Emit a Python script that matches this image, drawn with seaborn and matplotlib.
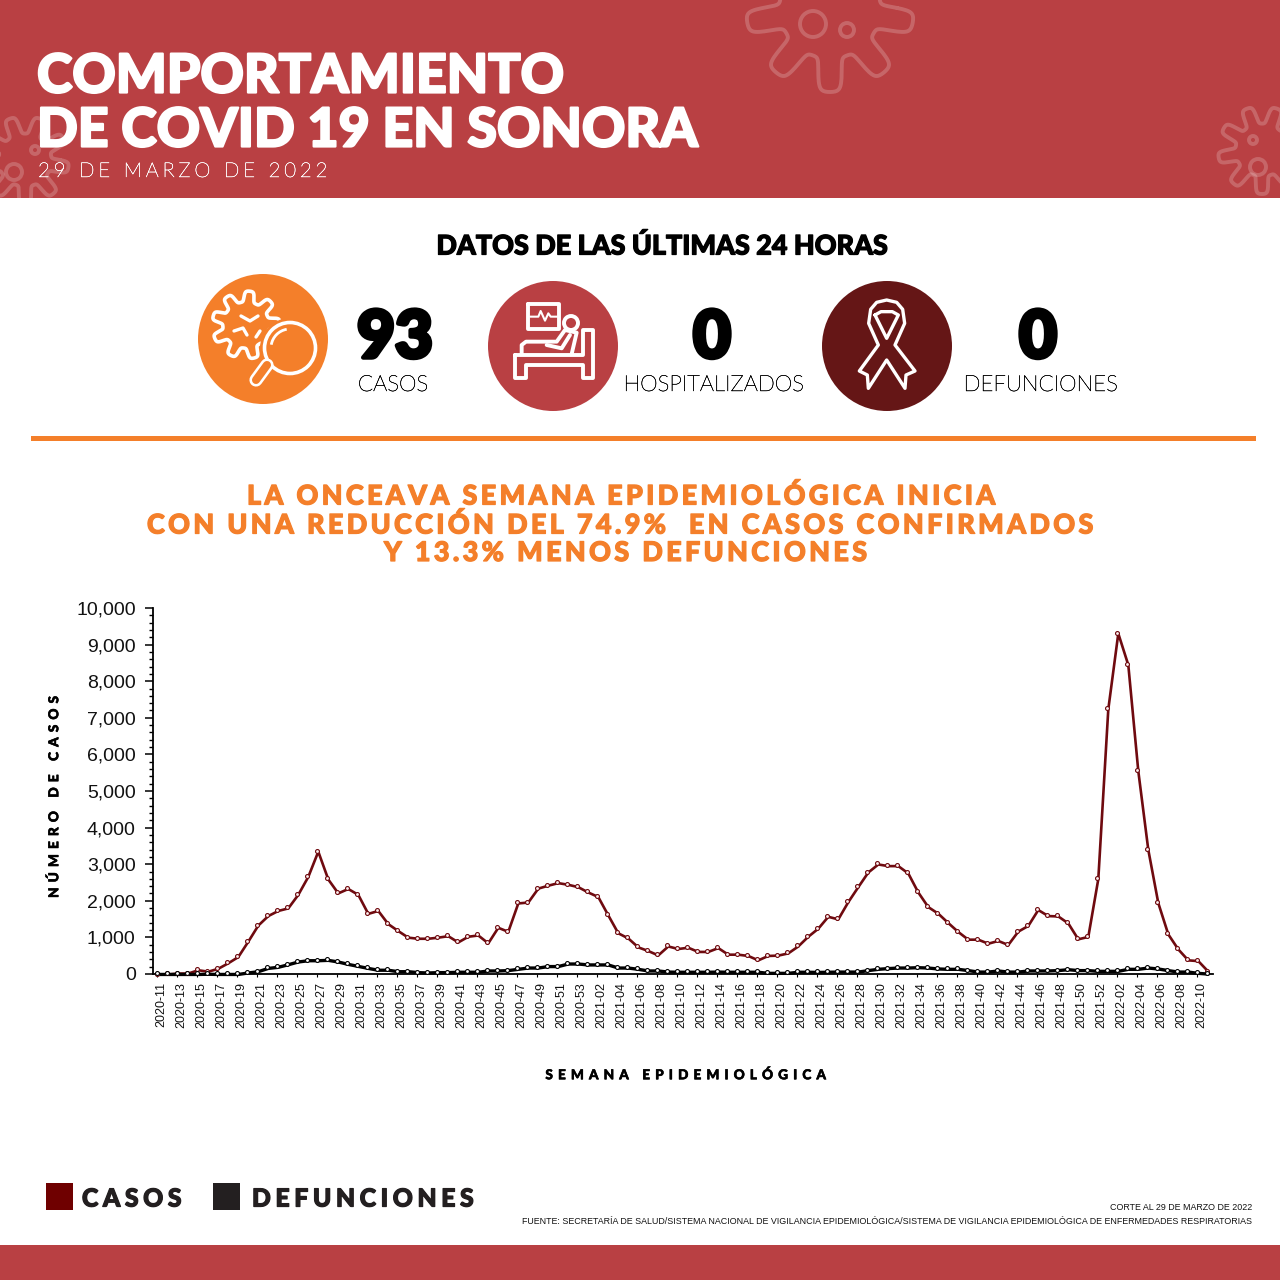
import numpy as np
import pandas as pd
import matplotlib
matplotlib.use("Agg")
import matplotlib.pyplot as plt
import matplotlib.patheffects as pe
import seaborn as sns
from matplotlib.patches import Rectangle, Circle, Polygon, Arc
from matplotlib.ticker import MultipleLocator, StrMethodFormatter
from matplotlib.transforms import offset_copy, ScaledTranslation

# semanas epidemiologicas
semanas_2020 = [f"2020-{s:02d}" for s in range(11, 54)]
semanas_2021 = [f"2021-{s:02d}" for s in range(1, 53)]
semanas_2022 = [f"2022-{s:02d}" for s in range(1, 12)]

casos_2020 = [10, 15, 40, 40, 130, 90, 170, 320, 490, 910, 1350, 1610, 1750, 1820, 2190, 2680, 3370,
              2610, 2230, 2350, 2190, 1670, 1750, 1390, 1200, 1020, 990, 990, 1020, 1060, 890, 1045,
              1080, 865, 1290, 1180, 1955, 1980, 2360, 2440, 2510, 2465, 2400]
casos_2021 = [2255, 2130, 1630, 1140, 1000, 755, 655, 535, 780, 710, 745, 630, 630, 735, 555, 555, 520,
              400, 520, 530, 590, 780, 1045, 1265, 1590, 1520, 1990, 2400, 2800, 3020, 2975, 2975, 2775,
              2255, 1855, 1675, 1420, 1175, 965, 965, 855, 930, 820, 1185, 1340, 1775, 1610, 1600, 1410,
              975, 1040, 2620]
casos_2022 = [7260, 9330, 8470, 5570, 3420, 1965, 1110, 700, 400, 380, 93]

defunciones_2020 = [15, 15, 15, 15, 15, 20, 15, 15, 15, 55, 90, 180, 210, 280, 355, 390, 390, 400, 355, 290,
                    235, 180, 130, 130, 90, 90, 65, 55, 65, 65, 75, 75, 75, 110, 110, 120, 155, 190, 190,
                    230, 230, 300, 300]
defunciones_2021 = [275, 275, 275, 190, 190, 155, 110, 110, 80, 75, 75, 75, 75, 80, 75, 75, 75, 75, 45, 45,
                    45, 75, 75, 70, 75, 80, 80, 80, 120, 155, 175, 190, 190, 200, 190, 165, 155, 155, 120,
                    80, 80, 110, 80, 80, 110, 110, 110, 120, 145, 120, 120, 100]
defunciones_2022 = [100, 100, 155, 155, 190, 165, 120, 80, 80, 45, 25]

y_ticks = [0, 1000, 2000, 3000, 4000, 5000, 6000, 7000, 8000, 9000, 10000]

df = pd.DataFrame({
    "semana": semanas_2020 + semanas_2021 + semanas_2022,
    "casos": casos_2020 + casos_2021 + casos_2022,
    "defunciones": defunciones_2020 + defunciones_2021 + defunciones_2022,
})

ROJO = "#B94043"
NARANJA = "#F47F2A"
GUINDA = "#651616"
VINO = "#6F0A0F"
NEGRO = "#231F20"
LATO = ["Lato", "DejaVu Sans"]


def esp(txt, n=1):
    # letras separadas con hair space
    return ("\u200a" * n).join(txt)


sns.set_theme(style="ticks")
plt.rcParams["font.family"] = ["Liberation Sans", "DejaVu Sans"]

fig = plt.figure(figsize=(12.8, 12.8), dpi=100, facecolor="white")

# capa de fondo en pixeles
bg = fig.add_axes([0, 0, 1, 1], zorder=0)
bg.set_xlim(0, 1280)
bg.set_ylim(1280, 0)
bg.axis("off")


def tx(x, y, s, size, color="black", weight="normal", ha="center", fam=LATO, grosor=0, **kw):
    t = bg.text(x, y, s, fontsize=size, color=color, fontweight=weight, ha=ha, va="center", family=fam, **kw)
    if grosor:
        t.set_path_effects([pe.withStroke(linewidth=grosor, foreground=color)])


def virus(cx, cy, r, color="white", lw=2.5, alpha=1.0, lobes=9, rot=0.0, amp=0.2):
    # contorno con lobulos redondeados
    t = np.linspace(0, 2 * np.pi, 800)
    rr = r * (1 - amp + amp * np.tanh(2.2 * np.cos(lobes * t + rot)) / np.tanh(2.2))
    bg.plot(cx + rr * np.cos(t), cy + rr * np.sin(t), color=color, lw=lw, alpha=alpha, solid_capstyle="round")


bg.add_patch(Rectangle((0, 0), 1280, 198, color=ROJO, lw=0))
bg.add_patch(Rectangle((0, 1245), 1280, 35, color=ROJO, lw=0))
bg.add_patch(Rectangle((31, 436), 1225, 4.5, color=NARANJA, lw=0))

# virus decorativos del encabezado
for cx, cy, r, c1, c2 in [(830, 8, 84, (813, 24, 13), (847, 30, 7)),
                          (25, 160, 44, (14, 172, 8), (35, 150, 4)),
                          (1262, 150, 44, (1258, 167, 8), (1253, 140, 4))]:
    virus(cx, cy, r, lw=2.8, alpha=0.2, lobes=9, rot=-np.pi / 2)
    bg.add_patch(Circle(c1[:2], c1[2], fill=False, ec="white", lw=2.8, alpha=0.2))
    bg.add_patch(Circle(c2[:2], c2[2], fill=False, ec="white", lw=2.8, alpha=0.2))

tx(37, 77, "COMPORTAMIENTO", 38.6, "white", "black", ha="left", grosor=1.6)
tx(37, 131, "DE COVID 19 EN SONORA", 38.6, "white", "black", ha="left", grosor=1.6)
tx(38, 172, esp("29 DE MARZO DE 2022", 3), 14.7, "white", "light", ha="left", grosor=0.3)

tx(661, 246, "DATOS DE LAS ÚLTIMAS 24 HORAS", 19.4, "black", "black", grosor=0.9)

# circulos con iconos
bg.add_patch(Circle((263, 339), 65, color=NARANJA, lw=0))
bg.add_patch(Circle((553, 346), 65, color=ROJO, lw=0))
bg.add_patch(Circle((887, 346), 65, color=GUINDA, lw=0))

# icono lupa
virus(246, 325, 34, lw=2.6, lobes=9, rot=0.6, amp=0.16)
bg.plot([241, 250, 258], [316, 321, 316], color="white", lw=2.4, solid_capstyle="round")
bg.plot([234, 243, 247], [331, 328, 335], color="white", lw=2.4, solid_capstyle="round")
bg.plot([256, 260], [337, 331], color="white", lw=2.4, solid_capstyle="round")
bg.add_patch(Circle((290, 348), 30, color=NARANJA, lw=0, zorder=3))
bg.add_patch(Circle((290, 348), 25.5, fill=False, ec="white", lw=2.6, zorder=4))
bg.add_patch(Arc((290, 348), 38, 38, theta1=190, theta2=260, color="white", lw=2, zorder=4))
bg.plot([267, 256], [365, 380], color="white", lw=9.5, solid_capstyle="round", zorder=4)
bg.plot([267, 256], [365, 380], color=NARANJA, lw=5.8, solid_capstyle="round", zorder=5)


def px(puntos, ox, oy):
    p = np.array(puntos, dtype=float) / 3
    return p + [ox, oy]


# icono cama
kw = dict(color="white", lw=2.8, solid_joinstyle="round", solid_capstyle="round")
bg.plot(*px([(55, 72), (148, 72), (148, 148), (55, 148), (55, 72)], 510, 280).T, **kw)
bg.plot(*px([(60, 110), (85, 110), (92, 93), (105, 122), (115, 100), (122, 110), (145, 110)], 510, 280).T,
        color="white", lw=1.5)
bg.add_patch(Circle((571, 323), 7, fill=False, ec="white", lw=2.8))
bg.plot(*px([(15, 225), (220, 225), (220, 150), (250, 150), (250, 295), (220, 295), (220, 255), (48, 255),
             (48, 295), (15, 295), (15, 225)], 510, 280).T, **kw)
bg.plot(*px([(35, 222), (35, 195), (48, 185), (140, 185), (165, 150), (200, 158), (185, 222)], 510, 280).T, **kw)
bg.plot(*px([(110, 195), (155, 205), (180, 165)], 510, 280).T, **kw)

# icono liston
liston = [(260, 90), (290, 97), (308, 118), (314, 160), (285, 225), (345, 303), (318, 315), (315, 355),
          (260, 270), (205, 355), (202, 315), (178, 303), (235, 225), (206, 160), (212, 118), (230, 97)]
bg.add_patch(Polygon(px(liston, 800, 270), closed=True, fill=False, ec="white", lw=2.4, joinstyle="round"))
bg.plot(*px([(225, 135), (243, 125), (277, 125), (295, 135), (260, 205), (225, 135)], 800, 270).T,
        color="white", lw=2.4, solid_joinstyle="round")

tx(395, 339, "93", 47, "black", "black", grosor=3.2)
tx(712, 339, "0", 47, "black", "black", grosor=3.2)
tx(1038, 339, "0", 47, "black", "black", grosor=3.2)
tx(393, 385, "CASOS", 16, "black", "light", grosor=0.3)
tx(714, 385, "HOSPITALIZADOS", 16, "black", "light", grosor=0.3)
tx(1041, 385, "DEFUNCIONES", 16, "black", "light", grosor=0.3)

tx(247, 496, esp("LA ONCEAVA SEMANA EPIDEMIOLÓGICA INICIA", 2), 19.4, NARANJA, "black", ha="left", grosor=0.9)
tx(147, 525, esp("CON UNA REDUCCIÓN DEL 74.9%  EN CASOS CONFIRMADOS", 2), 19.4, NARANJA, "black", ha="left", grosor=0.9)
tx(384, 553, esp("Y 13.3% MENOS DEFUNCIONES", 2), 19.4, NARANJA, "black", ha="left", grosor=0.9)

# leyenda
bg.add_patch(Rectangle((46, 1183), 27, 27, color="#6F0000", lw=0))
bg.add_patch(Rectangle((213, 1183), 27, 27, color=NEGRO, lw=0))
tx(82, 1199, esp("CASOS", 3), 17.8, NEGRO, "black", ha="left", grosor=0.9)
tx(252, 1199, esp("DEFUNCIONES", 3), 17.8, NEGRO, "black", ha="left", grosor=0.9)

tx(1252, 1207, "CORTE AL 29 DE MARZO DE 2022", 6.4, "#111111", ha="right", fam=["Liberation Sans"])
tx(1252, 1221, "FUENTE: SECRETARÍA DE SALUD/SISTEMA NACIONAL DE VIGILANCIA EPIDEMIOLÓGICA/SISTEMA DE VIGILANCIA "
   "EPIDEMIOLÓGICA DE ENFERMEDADES RESPIRATORIAS", 6.4, "#111111", ha="right", fam=["Liberation Sans"])

tx(54, 796, esp("NÚMERO DE CASOS", 6), 9.8, "black", "black", rotation=90, grosor=0.4)
tx(687, 1075, esp("SEMANA EPIDEMIOLÓGICA", 6), 9.8, "black", "black", grosor=0.4)

# grafica
ax = fig.add_axes([153 / 1280, 1 - 974 / 1280, (1213 - 153) / 1280, (974 - 608) / 1280], zorder=2)
ax.patch.set_alpha(0)
desfase = offset_copy(ax.transData, fig=fig, x=1.3, y=-1.0, units="dots")

sns.lineplot(data=df, x="semana", y="casos", color=VINO, lw=1.9, sort=False, ax=ax, clip_on=False)
sns.lineplot(data=df, x="semana", y="defunciones", color="black", lw=2.4, sort=False, ax=ax, clip_on=False)
for linea in ax.lines:
    linea.set_transform(desfase)
sns.scatterplot(data=df, x="semana", y="casos", s=8, color="#FBEDED", edgecolor=VINO, linewidth=0.8,
                ax=ax, clip_on=False, zorder=4)
sns.scatterplot(data=df, x="semana", y="defunciones", s=8, color="white", edgecolor="black", linewidth=0.8,
                ax=ax, clip_on=False, zorder=4)

ax.set_xlim(-0.4, 105.6)
ax.set_ylim(0, 10000)
ax.set_xlabel("")
ax.set_ylabel("")
ax.set_yticks(y_ticks)
ax.yaxis.set_major_formatter(StrMethodFormatter("{x:,.0f}"))
ax.yaxis.set_minor_locator(MultipleLocator(200))
ax.set_xticks(df["semana"].iloc[::2])
ax.tick_params(axis="y", which="major", labelsize=14, length=6, width=1.1, pad=6.5, color="black", labelcolor="#111111")
ax.tick_params(axis="y", which="minor", length=3, width=1, color="black")
ax.tick_params(axis="x", labelsize=9, length=2.5, width=0.8, pad=3.5, labelrotation=90, color="black", labelcolor="#111111")
corrimiento = ScaledTranslation(3 / 72, 0, fig.dpi_scale_trans)
for etiqueta in ax.get_xticklabels():
    etiqueta.set_transform(etiqueta.get_transform() + corrimiento)
for lado in ["top", "right"]:
    ax.spines[lado].set_visible(False)
for lado in ["left", "bottom"]:
    ax.spines[lado].set_linewidth(1.3)
    ax.spines[lado].set_color("black")

fig.savefig("out.png", dpi=100)
